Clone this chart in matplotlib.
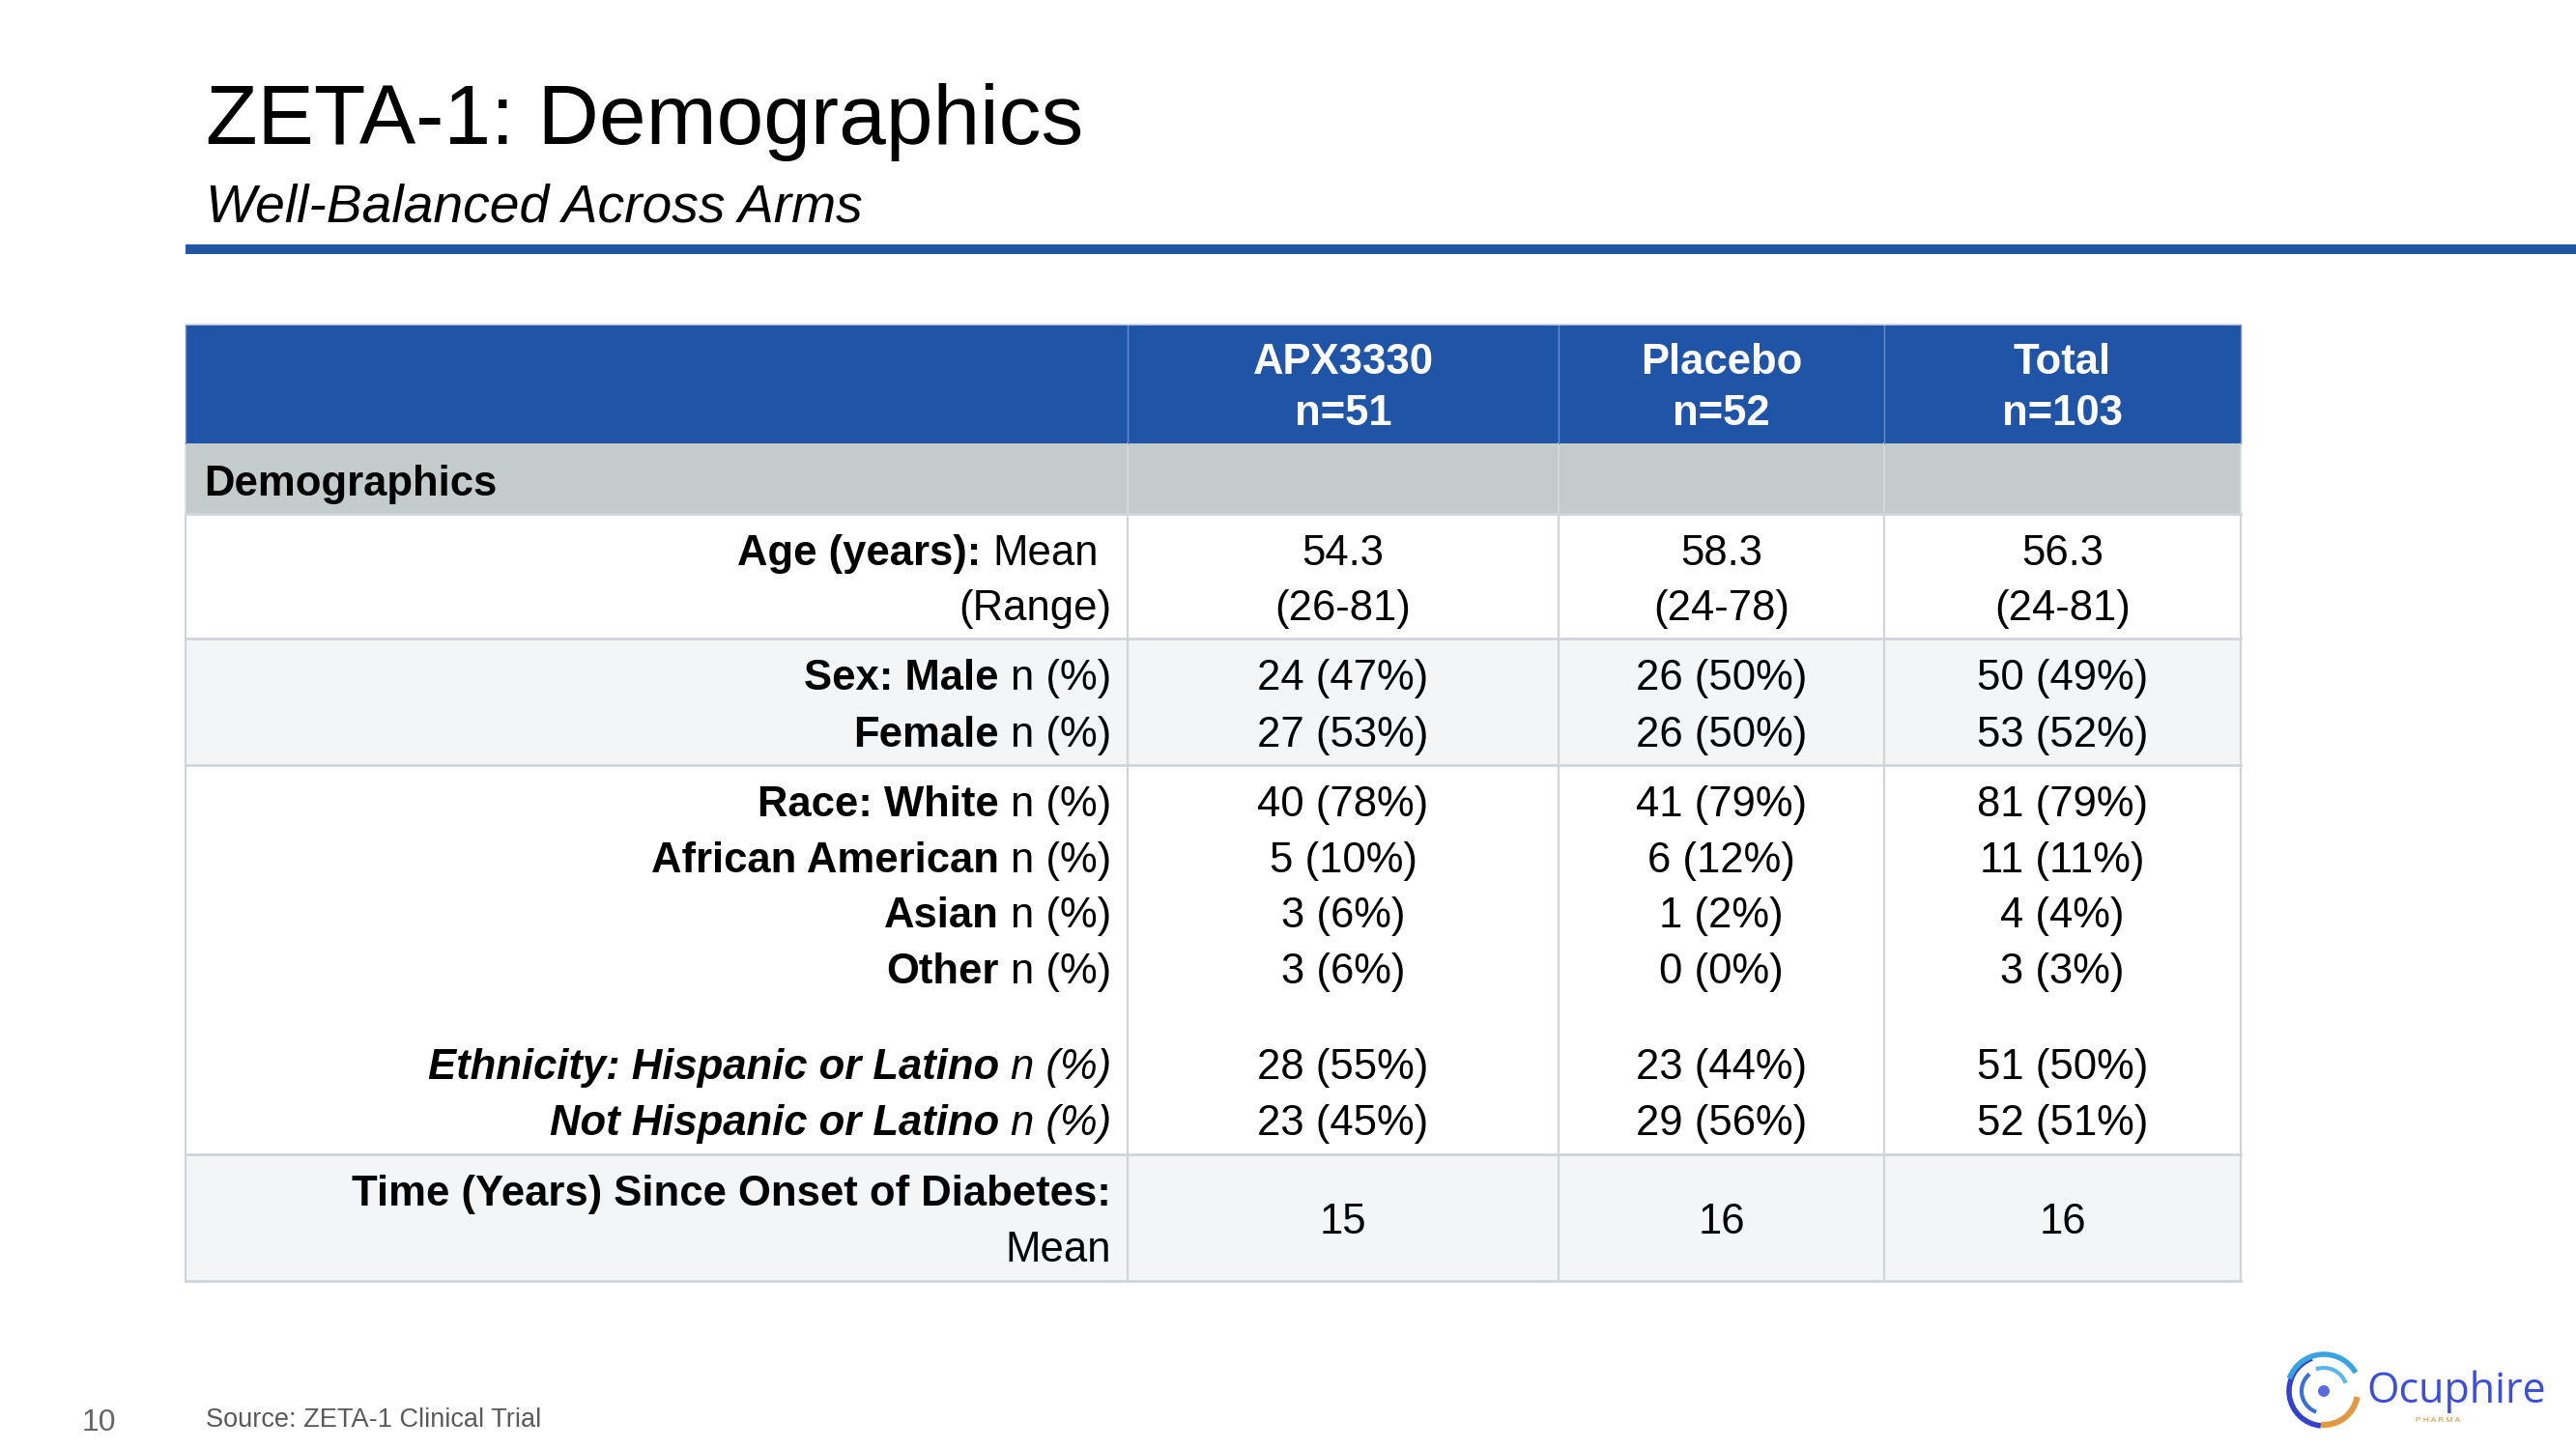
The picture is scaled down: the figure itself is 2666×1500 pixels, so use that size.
import matplotlib
matplotlib.use("Agg")
import matplotlib.pyplot as plt
from matplotlib.patches import Rectangle, Arc, Circle

FONT = "Liberation Sans"

# Données du tableau
arms = ["APX3330", "Placebo", "Total"]
arm_n = [51, 52, 103]
age_mean = [54.3, 58.3, 56.3]
age_range = ["(26-81)", "(24-78)", "(24-81)"]
male = [24, 26, 50]
male_pct = [47, 50, 49]
female = [27, 26, 53]
female_pct = [53, 50, 52]
white = [40, 41, 81]
white_pct = [78, 79, 79]
african_american = [5, 6, 11]
african_american_pct = [10, 12, 11]
asian = [3, 1, 4]
asian_pct = [6, 2, 4]
other = [3, 0, 3]
other_pct = [6, 0, 3]
hispanic = [28, 23, 51]
hispanic_pct = [55, 44, 50]
not_hispanic = [23, 29, 52]
not_hispanic_pct = [45, 56, 51]
diabetes_years = [15, 16, 16]

BLUE = "#2054A6"
GRAY_ROW = "#C3CBCB"
LIGHT_ROW = "#F3F5F7"
GRID = "#D0D5DA"

fig = plt.figure(figsize=(26.66, 15), dpi=100)
ax = fig.add_axes([0, 0, 1, 1])
ax.set_xlim(0, 2666)
ax.set_ylim(1500, 0)
ax.axis("off")
renderer = fig.canvas.get_renderer()

# Titre et sous-titre
ax.text(213, 149, "ZETA-1: Demographics", fontsize=63, family=FONT, va="baseline")
ax.text(213, 230, "Well-Balanced Across Arms", fontsize=39.8, style="italic",
        family=FONT, va="baseline")
ax.add_patch(Rectangle((192, 253), 2666 - 192, 10, color="#2156A5", lw=0))

# Géométrie du tableau
col_x = [192, 1167, 1613, 1950, 2319]
row_y = [336, 459, 532, 661, 792, 1195, 1326]
row_colors = [BLUE, GRAY_ROW, "white", LIGHT_ROW, "white", LIGHT_ROW]
for i, c in enumerate(row_colors):
    ax.add_patch(Rectangle((col_x[0], row_y[i]), col_x[-1] - col_x[0],
                           row_y[i + 1] - row_y[i], color=c, lw=0))

# Lignes de la grille
for x in col_x:
    ax.plot([x, x], [row_y[2], row_y[-1]], color=GRID, lw=1.6)
    ax.plot([x, x], [row_y[1], row_y[2]], color="#D6DCDC", lw=1.2)
    ax.plot([x, x], [row_y[0], row_y[1]], color="#6E8FC6", lw=1.0)
for y in row_y[2:]:
    ax.plot([col_x[0], col_x[-1]], [y, y], color=GRID, lw=2.0)
ax.plot([col_x[0], col_x[-1]], [row_y[0], row_y[0]], color="#C9D3E6", lw=1.2)

SIZE = 31.4
GAP = 12
centers = [(col_x[i] + col_x[i + 1]) / 2 for i in range(1, 4)]
LABEL_X = 1150


def label(y, parts, x_right=LABEL_X):
    x = x_right
    for s, weight, style in reversed(parts):
        t = ax.text(x, y, s, ha="right", va="baseline", fontsize=SIZE,
                    fontweight=weight, fontstyle=style, family=FONT)
        x -= t.get_window_extent(renderer).width + GAP


def values(y, vals):
    for cx, v in zip(centers, vals):
        ax.text(cx, y, v, ha="center", va="baseline", fontsize=SIZE, family=FONT)


def n_pct(n, p):
    return [f"{a} ({b}%)" for a, b in zip(n, p)]


# En-tête
for cx, arm, n in zip(centers, arms, arm_n):
    ax.text(cx, 387, arm, ha="center", va="baseline", fontsize=SIZE,
            fontweight="bold", color="white", family=FONT)
    ax.text(cx, 440, f"n={n}", ha="center", va="baseline", fontsize=SIZE,
            fontweight="bold", color="white", family=FONT)

ax.text(211, 513, "Demographics", va="baseline", fontsize=SIZE,
        fontweight="bold", family=FONT)

# Âge
label(585, [("Age (years):", "bold", "normal"), ("Mean", "normal", "normal")],
      x_right=LABEL_X - 13)
label(642, [("(Range)", "normal", "normal")])
values(585, [f"{v:.1f}" for v in age_mean])
values(642, age_range)

# Sexe
label(714, [("Sex: Male", "bold", "normal"), ("n (%)", "normal", "normal")])
label(773, [("Female", "bold", "normal"), ("n (%)", "normal", "normal")])
values(714, n_pct(male, male_pct))
values(773, n_pct(female, female_pct))

# Race
race_rows = [("Race: White", white, white_pct, 845),
             ("African American", african_american, african_american_pct, 903),
             ("Asian", asian, asian_pct, 960),
             ("Other", other, other_pct, 1018)]
for name, n, p, y in race_rows:
    label(y, [(name, "bold", "normal"), ("n (%)", "normal", "normal")])
    values(y, n_pct(n, p))

# Ethnicité
label(1117, [("Ethnicity: Hispanic or Latino", "bold", "italic"),
             ("n (%)", "normal", "italic")])
label(1175, [("Not Hispanic or Latino", "bold", "italic"),
             ("n (%)", "normal", "italic")])
values(1117, n_pct(hispanic, hispanic_pct))
values(1175, n_pct(not_hispanic, not_hispanic_pct))

# Diabète
label(1248, [("Time (Years) Since Onset of Diabetes:", "bold", "normal")])
label(1306, [("Mean", "normal", "normal")])
values(1277, [str(v) for v in diabetes_years])

# Pied de page
ax.text(85, 1481, "10", fontsize=23, color="#666666", family=FONT, va="baseline")
ax.text(213, 1477, "Source: ZETA-1 Clinical Trial", fontsize=19.5,
        color="#595959", family=FONT, va="baseline")

# Logo
lx, ly = 2405, 1440
ax.add_patch(Arc((lx, ly), 72, 72, theta1=95, theta2=250, color="#3441C8", lw=4))
ax.add_patch(Arc((lx, ly), 76, 76, theta1=200, theta2=330, color="#3BA3E0", lw=4))
ax.add_patch(Arc((lx, ly), 70, 70, theta1=10, theta2=95, color="#E09A45", lw=4.5))
ax.add_patch(Arc((lx, ly), 46, 46, theta1=110, theta2=230, color="#3B6FD8", lw=3))
ax.add_patch(Arc((lx, ly), 48, 48, theta1=250, theta2=340, color="#5BB6EA", lw=3))
ax.add_patch(Circle((lx, ly), 6, color="#5A6BE0", lw=0))
ax.text(2449, 1452, "Ocuphire", fontsize=31, color="#3D4FD8", family="Open Sans",
        va="baseline")
ax.text(2500, 1472, "P H A R M A", fontsize=6, color="#D4913A", family=FONT,
        va="baseline")

fig.savefig("out.png", dpi=100)
